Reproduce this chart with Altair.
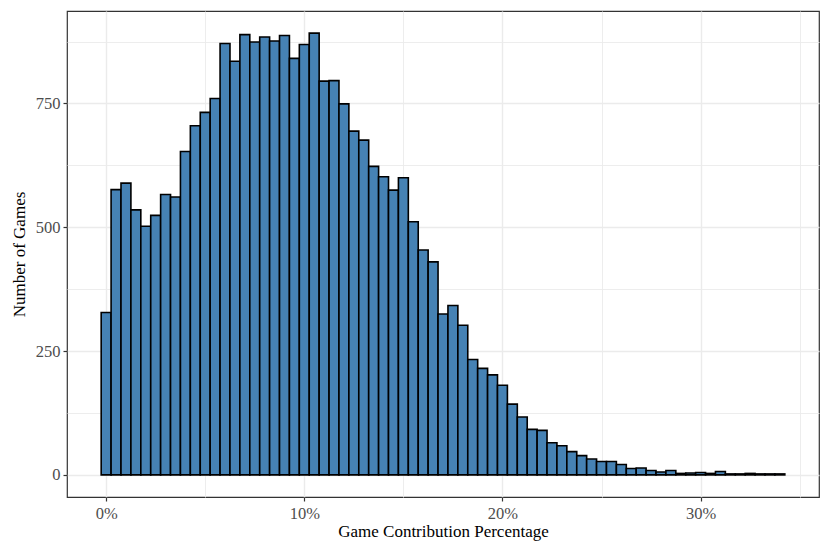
import altair as alt
import pandas as pd

# Histogram bins: centers in percent (bin width 0.5%)
bin_centers = [i * 0.5 for i in range(69)]
counts = [328, 576, 589, 535, 502, 524, 566, 561, 653, 705,
          732, 760, 871, 835, 889, 874, 884, 876, 887, 841,
          869, 892, 795, 796, 749, 694, 676, 623, 602, 575,
          600, 511, 454, 430, 325, 342, 302, 233, 215, 202,
          181, 143, 117, 92, 90, 65, 59, 47, 39, 32,
          27, 27, 21, 13, 14, 9, 6, 9, 3, 4,
          5, 3, 7, 2, 2, 3, 2, 2, 2]
bin_width = 0.5

x_major = [0, 10, 20, 30]
x_minor = [5, 15, 25, 35]
y_major = [0, 250, 500, 750]
y_minor = [125, 375, 625, 875]

df = pd.DataFrame({"center": bin_centers, "count": counts})
df["x0"] = df["center"] - bin_width / 2
df["x1"] = df["center"] + bin_width / 2

x_dom = [-1.975, 35.975]
y_dom = [-44.6, 936.6]
FONT = "Liberation Serif"
grid_color = "#EBEBEB"

xs = alt.Scale(domain=x_dom, nice=False, zero=False)
ys = alt.Scale(domain=y_dom, nice=False, zero=False)


def minor_axis(vals, orient):
    return alt.Axis(values=vals, grid=True, gridColor=grid_color, gridWidth=0.9,
                    labels=False, ticks=False, domain=False, title=None,
                    orient=orient)


grid_df = pd.DataFrame({"gx": [x_dom[0]], "gy": [y_dom[0]]})
minor = alt.Chart(grid_df).mark_point(opacity=0).encode(
    x=alt.X("gx:Q", scale=xs, axis=minor_axis(x_minor, "top")),
    y=alt.Y("gy:Q", scale=ys, axis=minor_axis(y_minor, "right")),
)

common = dict(grid=True, gridColor=grid_color, gridWidth=1.4, domain=False,
              tickColor="#333333", tickSize=4, tickWidth=1.2,
              labelColor="#4D4D4D", labelFont=FONT, labelFontSize=16.5,
              titleFont=FONT, titleFontSize=17,
              titleFontWeight="normal", titleColor="black")

bars = alt.Chart(df).mark_rect(
    fill="#4682B4", stroke="black", strokeWidth=1.6
).encode(
    x=alt.X("x0:Q", scale=xs, title="Game Contribution Percentage",
            axis=alt.Axis(values=x_major, labelExpr="datum.value + '%'",
                          orient="bottom", labelPadding=4, titlePadding=2,
                          **common)),
    x2="x1:Q",
    y=alt.Y("count:Q", scale=ys, title="Number of Games",
            axis=alt.Axis(values=y_major, orient="left", labelPadding=3,
                          titlePadding=7, **common)),
    y2=alt.Y2(datum=0),
)

chart = alt.layer(minor, bars).resolve_axis(
    x="independent", y="independent"
).properties(
    width=752, height=486,
    autosize=alt.AutoSizeParams(type="none"),
    padding={"left": 59, "top": 3, "right": 3, "bottom": 50},
    background="white",
).configure_view(stroke="#333333", strokeWidth=1.2)

chart.save("out.html", embed_options={"renderer": "svg", "actions": False})
